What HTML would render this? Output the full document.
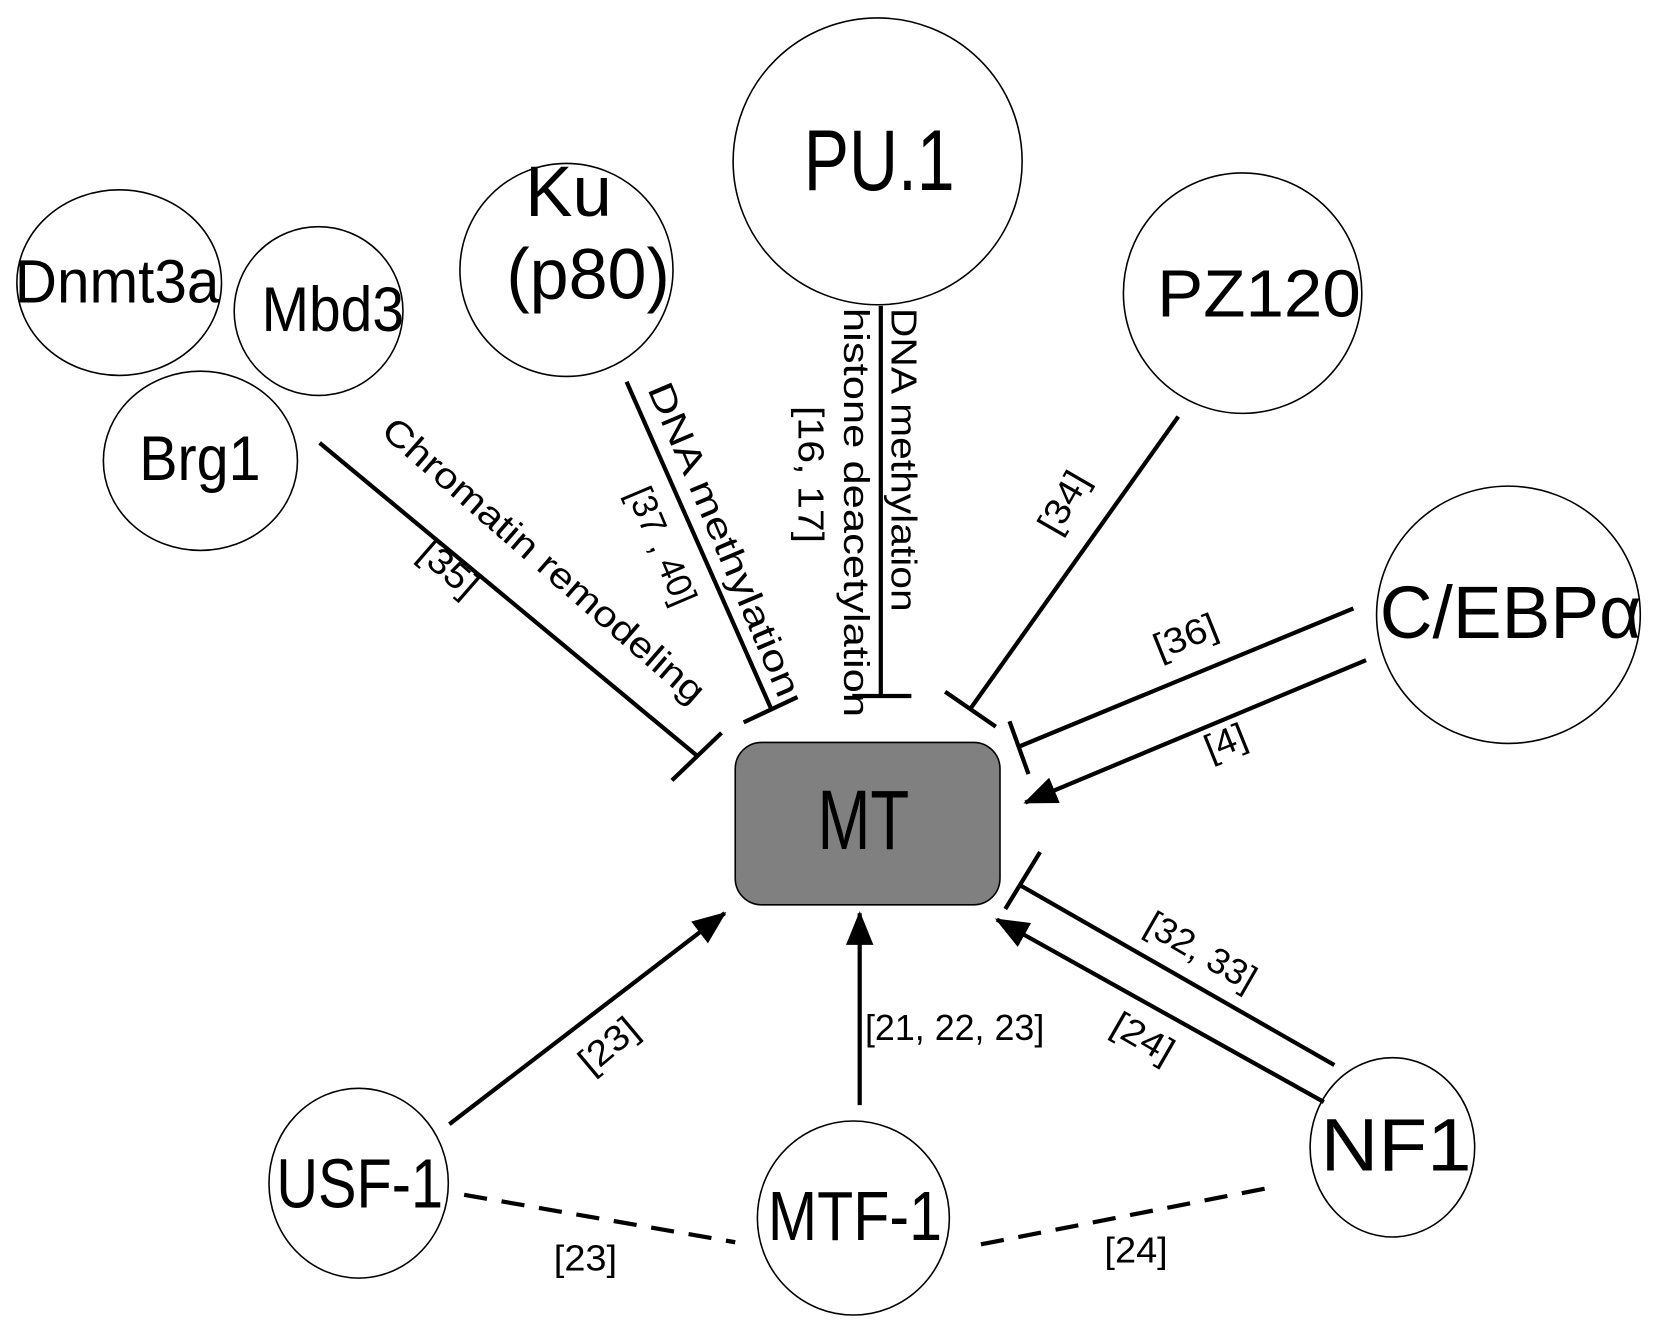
<!DOCTYPE html>
<html><head><style>html,body{margin:0;padding:0;background:#fff}svg{display:block}</style></head>
<body>
<svg width="1654" height="1334" viewBox="0 0 1568 1265" preserveAspectRatio="none" xmlns="http://www.w3.org/2000/svg" font-family="Liberation Sans, Arial, sans-serif">
<defs><marker id="ah" markerWidth="32" markerHeight="26" refX="30" refY="13" orient="auto" markerUnits="userSpaceOnUse" viewBox="0 0 32 26"><path d="M0,0 L32,13 L0,26 z" fill="#000"/></marker></defs>
<g fill="#fff" stroke="#000" stroke-width="1.5">
<ellipse cx="113" cy="268" rx="97" ry="88"/>
<ellipse cx="302" cy="295" rx="80" ry="80"/>
<ellipse cx="190" cy="437" rx="92" ry="85"/>
<ellipse cx="537" cy="256" rx="101" ry="101"/>
<ellipse cx="832" cy="153" rx="137" ry="136"/>
<ellipse cx="1178" cy="278" rx="113" ry="114"/>
<ellipse cx="1430" cy="583" rx="125" ry="122"/>
<ellipse cx="340" cy="1122" rx="85" ry="90"/>
<ellipse cx="809" cy="1155" rx="91" ry="92"/>
<ellipse cx="1320" cy="1088" rx="78" ry="85"/>
<rect x="697" y="704" width="251" height="154" rx="25" fill="#808080"/>
</g>
<g fill="#000" lengthAdjust="spacingAndGlyphs">
<text x="14" y="287" font-size="58" textLength="194" lengthAdjust="spacingAndGlyphs">Dnmt3a</text>
<text x="248" y="314" font-size="60" textLength="135" lengthAdjust="spacingAndGlyphs">Mbd3</text>
<text x="132" y="455" font-size="60" textLength="115" lengthAdjust="spacingAndGlyphs">Brg1</text>
<text x="498" y="205" font-size="68" textLength="82" lengthAdjust="spacingAndGlyphs">Ku</text>
<text x="480" y="283" font-size="68" textLength="155" lengthAdjust="spacingAndGlyphs">(p80)</text>
<text x="762" y="180" font-size="82" textLength="143" lengthAdjust="spacingAndGlyphs">PU.1</text>
<text x="1097" y="300" font-size="63" textLength="193" lengthAdjust="spacingAndGlyphs">PZ120</text>
<text x="1308" y="605" font-size="70" textLength="248" lengthAdjust="spacingAndGlyphs">C/EBPα</text>
<text x="775" y="805" font-size="80" textLength="87" lengthAdjust="spacingAndGlyphs">MT</text>
<text x="262" y="1145" font-size="66" textLength="158" lengthAdjust="spacingAndGlyphs">USF-1</text>
<text x="728" y="1176" font-size="66" textLength="165" lengthAdjust="spacingAndGlyphs">MTF-1</text>
<text x="1252" y="1110" font-size="70" textLength="143" lengthAdjust="spacingAndGlyphs">NF1</text>
</g>
<g stroke="#000" stroke-width="4" fill="none">
<line x1="303" y1="420" x2="660" y2="716"/><line x1="637" y1="740" x2="684" y2="695"/>
<line x1="594" y1="362" x2="731" y2="672"/><line x1="705" y1="685" x2="756" y2="661"/>
<line x1="835" y1="290" x2="835" y2="660"/><line x1="808" y1="660" x2="864" y2="660"/>
<line x1="1117" y1="395" x2="920" y2="672"/><line x1="896" y1="656" x2="944" y2="689"/>
<line x1="1283" y1="577" x2="966" y2="708"/><line x1="957" y1="684" x2="975" y2="734"/>
<line x1="1295" y1="626" x2="972" y2="761" marker-end="url(#ah)"/>
<line x1="1265" y1="1010" x2="968" y2="840"/><line x1="953" y1="862" x2="986" y2="808"/>
<line x1="1255" y1="1045" x2="945" y2="872" marker-end="url(#ah)"/>
<line x1="426" y1="1066" x2="687" y2="866" marker-end="url(#ah)"/>
<line x1="815" y1="1048" x2="815" y2="866" marker-end="url(#ah)"/>
<line x1="440" y1="1133" x2="697" y2="1178" stroke-dasharray="22,14"/>
<line x1="930" y1="1180" x2="1210" y2="1125" stroke-dasharray="22,14"/>
</g>
<g fill="#000" font-size="34" text-anchor="middle">
<text transform="translate(508,540) rotate(41)" textLength="393" lengthAdjust="spacingAndGlyphs">Chromatin remodeling</text>
<text transform="translate(418,548) rotate(41)" textLength="62" lengthAdjust="spacingAndGlyphs">[35]</text>
<text transform="translate(676,516) rotate(67)" textLength="320" lengthAdjust="spacingAndGlyphs">DNA methylation</text>
<text transform="translate(617,522) rotate(67)" textLength="118" lengthAdjust="spacingAndGlyphs">[37 , 40]</text>
<text transform="translate(845,436) rotate(90)" textLength="288" lengthAdjust="spacingAndGlyphs">DNA methylation</text>
<text transform="translate(800,486) rotate(90)" textLength="388" lengthAdjust="spacingAndGlyphs">histone deacetylation</text>
<text transform="translate(757,450) rotate(90)" textLength="130" lengthAdjust="spacingAndGlyphs">[16, 17]</text>
<text transform="translate(1018,482) rotate(-60)" textLength="62" lengthAdjust="spacingAndGlyphs">[34]</text>
<text transform="translate(1128,614) rotate(-22)" textLength="62" lengthAdjust="spacingAndGlyphs">[36]</text>
<text transform="translate(1166,714) rotate(-22)" textLength="40" lengthAdjust="spacingAndGlyphs">[4]</text>
<text transform="translate(1133,912) rotate(30)" textLength="115" lengthAdjust="spacingAndGlyphs">[32, 33]</text>
<text transform="translate(1078,994) rotate(30)" textLength="62" lengthAdjust="spacingAndGlyphs">[24]</text>
<text transform="translate(584,1000) rotate(-40)" textLength="62" lengthAdjust="spacingAndGlyphs">[23]</text>
<text x="905" y="986" textLength="170" lengthAdjust="spacingAndGlyphs">[21, 22, 23]</text>
<text x="555" y="1205" textLength="60" lengthAdjust="spacingAndGlyphs">[23]</text>
<text x="1077" y="1197" textLength="60" lengthAdjust="spacingAndGlyphs">[24]</text>
</g>
</svg>
</body></html>
